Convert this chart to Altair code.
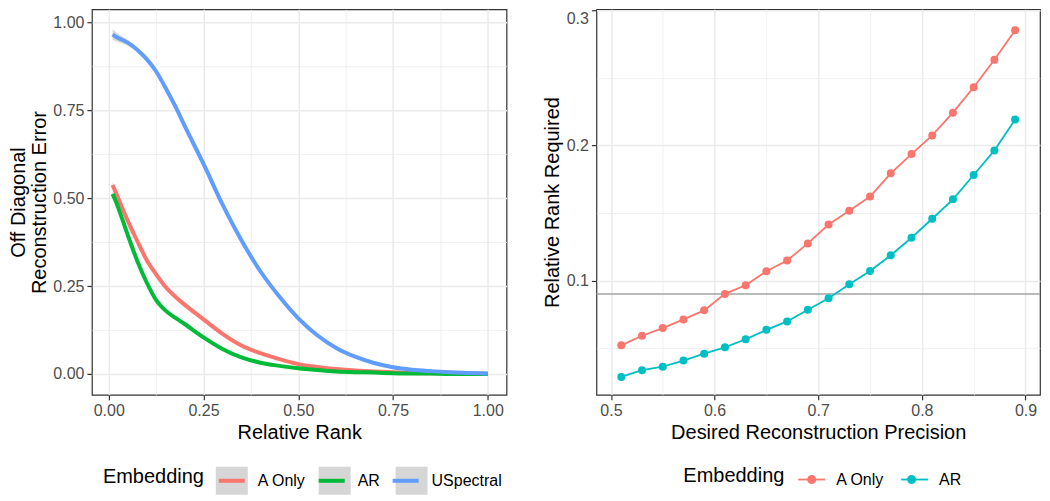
import altair as alt
import pandas as pd

# ---------------- Left panel data ----------------
embed_left = ["A Only", "AR", "USpectral"]
colors_left = ["#F8766D", "#00BA38", "#619CFF"]

rank_x = [0.01, 0.02, 0.05, 0.075, 0.1, 0.125, 0.15, 0.175, 0.2, 0.25, 0.3, 0.35,
          0.4, 0.45, 0.5, 0.55, 0.6, 0.65, 0.7, 0.75, 0.8, 0.85, 0.9, 0.95, 1.0]
err_a_only = [0.537, 0.512, 0.436, 0.378, 0.324, 0.283, 0.247, 0.220, 0.197, 0.155, 0.114, 0.081,
              0.059, 0.042, 0.028, 0.020, 0.014, 0.010, 0.007, 0.005, 0.003, 0.002, 0.001, 0.0005, 0.0]
err_ar = [0.512, 0.487, 0.395, 0.322, 0.260, 0.210, 0.180, 0.160, 0.142, 0.104, 0.071, 0.047,
          0.032, 0.023, 0.016, 0.011, 0.007, 0.005, 0.004, 0.002, 0.001, 0.001, 0.0, 0.0, 0.0]
err_usp = [0.965, 0.958, 0.942, 0.922, 0.895, 0.860, 0.813, 0.762, 0.706, 0.597, 0.482, 0.380,
           0.292, 0.220, 0.158, 0.110, 0.074, 0.049, 0.031, 0.019, 0.012, 0.008, 0.005, 0.003, 0.001]
se_a_only = [0.008, 0.006, 0.004, 0.003, 0.003, 0.003, 0.002, 0.002, 0.002, 0.002, 0.002, 0.002,
             0.002, 0.002, 0.002, 0.002, 0.002, 0.002, 0.002, 0.002, 0.002, 0.002, 0.003, 0.003, 0.004]
se_ar = [0.008, 0.006, 0.004, 0.003, 0.003, 0.003, 0.002, 0.002, 0.002, 0.002, 0.002, 0.002,
         0.002, 0.002, 0.002, 0.002, 0.002, 0.002, 0.002, 0.002, 0.002, 0.002, 0.003, 0.003, 0.004]
se_usp = [0.015, 0.012, 0.008, 0.006, 0.005, 0.004, 0.004, 0.003, 0.003, 0.003, 0.003, 0.003,
          0.003, 0.003, 0.003, 0.003, 0.003, 0.003, 0.003, 0.003, 0.003, 0.003, 0.004, 0.005, 0.007]

# ---------------- Right panel data ----------------
embed_right = ["A Only", "AR"]
colors_right = ["#F8766D", "#00BFC4"]

prec_x = [0.51, 0.53, 0.55, 0.57, 0.59, 0.61, 0.63, 0.65, 0.67, 0.69,
          0.71, 0.73, 0.75, 0.77, 0.79, 0.81, 0.83, 0.85, 0.87, 0.89]
req_a_only = [0.0520, 0.0591, 0.0648, 0.0712, 0.0779, 0.0901, 0.0965, 0.1069, 0.1148, 0.1275,
              0.1415, 0.1517, 0.1622, 0.1794, 0.1937, 0.2075, 0.2244, 0.2432, 0.2636, 0.2855]
req_ar = [0.0286, 0.0336, 0.0362, 0.0407, 0.0458, 0.0505, 0.0565, 0.0635, 0.0697, 0.0783,
          0.0869, 0.0973, 0.1071, 0.1187, 0.1317, 0.1458, 0.1602, 0.1782, 0.1964, 0.2193]
req_se_a_only = [0.0018, 0.0018, 0.0018, 0.0018, 0.0018, 0.0018, 0.0018, 0.0018, 0.0018, 0.0018,
                 0.0018, 0.0018, 0.0018, 0.0018, 0.0018, 0.0020, 0.0020, 0.0020, 0.0022, 0.0022]
req_se_ar = [0.0015, 0.0015, 0.0015, 0.0015, 0.0015, 0.0015, 0.0015, 0.0015, 0.0015, 0.0015,
             0.0016, 0.0016, 0.0016, 0.0017, 0.0017, 0.0018, 0.0018, 0.0019, 0.0020, 0.0021]
hline_y = [0.09]

# ---------------- Build tables ----------------
rows = []
for name, ys, ses in zip(embed_left, [err_a_only, err_ar, err_usp], [se_a_only, se_ar, se_usp]):
    for x, y, s in zip(rank_x, ys, ses):
        rows.append({"rank": x, "err": y, "lo": y - s, "hi": y + s, "Embedding": name, "Band": name})
left_df = pd.DataFrame(rows)

rows = []
for name, ys, ses in zip(embed_right, [req_a_only, req_ar], [req_se_a_only, req_se_ar]):
    for x, y, s in zip(prec_x, ys, ses):
        rows.append({"prec": x, "req": y, "lo": y - s, "hi": y + s, "Embedding": name, "Pt": name})
right_df = pd.DataFrame(rows)
hline_df = pd.DataFrame({"y": hline_y})


def minor_axis(values, test, fmt, title, **kw):
    return alt.Axis(
        values=values, title=title,
        labelExpr=f"({test}) ? format(datum.value, '{fmt}') : ''",
        gridWidth={"condition": {"test": test, "value": 1.5}, "value": 0.75},
        tickOpacity={"condition": {"test": test, "value": 1}, "value": 0},
        **kw,
    )


LEG_Y = 456
leg_base = dict(orient="none", direction="horizontal", title="Embedding", titleOrient="left",
                titleAnchor="middle", titleBaseline="middle",
                titleFontSize=20, titleFontWeight="normal", labelFontSize=16, legendY=LEG_Y)
leg_left = dict(leg_base, legendX=11, titlePadding=11, labelOffset=10, columnPadding=3,
                symbolSize=784, symbolStrokeWidth=4)
leg_right = dict(leg_base, legendX=87, titlePadding=12, labelOffset=10, columnPadding=12,
                 symbolSize=729, symbolStrokeWidth=1.8)
HIDDEN = "rgba(0,0,0,0)"

# ---------------- Left chart ----------------
xl = alt.X("rank:Q", scale=alt.Scale(domain=[-0.0445, 1.0495], nice=False, zero=False),
           axis=minor_axis([0, 0.125, 0.25, 0.375, 0.5, 0.625, 0.75, 0.875, 1.0],
                           "round(datum.value*1000) % 250 == 0", ".2f", "Relative Rank"))
yl_axis = minor_axis([0, 0.125, 0.25, 0.375, 0.5, 0.625, 0.75, 0.875, 1.0],
                     "round(datum.value*1000) % 250 == 0", ".2f",
                     ["Off Diagonal", "Reconstruction Error"], titleLineHeight=21, titlePadding=3)

band = alt.Chart(left_df).mark_area(opacity=1).encode(
    x=xl,
    y=alt.Y("lo:Q", scale=alt.Scale(domain=[-0.0595, 1.037], nice=False, zero=False), axis=yl_axis),
    y2="hi:Q",
    fill=alt.Fill("Band:N", scale=alt.Scale(range=["#D6D6D6"] * 3),
                  legend=alt.Legend(symbolType="M-1.143,-1H1.143V1H-1.143Z", symbolStrokeColor=HIDDEN,
                                    symbolOpacity=1, labelColor=HIDDEN, titleColor=HIDDEN, **leg_left)),
)
lines = alt.Chart(left_df).mark_line(strokeWidth=4, interpolate="monotone", strokeCap="butt").encode(
    x=xl,
    y=alt.Y("err:Q"),
    stroke=alt.Stroke("Embedding:N", scale=alt.Scale(range=colors_left),
                      legend=alt.Legend(symbolType="M-0.93,0H0.93", labelColor="black",
                                        titleColor="black", **leg_left)),
    order="rank:Q",
)
left = alt.layer(band, lines).properties(width=415, height=386)

# ---------------- Right chart ----------------
xr = alt.X("prec:Q", scale=alt.Scale(domain=[0.486, 0.914], nice=False, zero=False),
           axis=minor_axis([0.5, 0.55, 0.6, 0.65, 0.7, 0.75, 0.8, 0.85, 0.9],
                           "round(datum.value*100) % 10 == 0", ".1f", "Desired Reconstruction Precision"))
yr_scale = alt.Scale(domain=[0.0153, 0.301], nice=False, zero=False)
yr_axis = minor_axis([0.05, 0.1, 0.15, 0.2, 0.25, 0.3], "round(datum.value*100) % 10 == 0", ".1f",
                     "Relative Rank Required",
                     labelBaseline={"condition": {"test": "datum.value > 0.29", "value": "top"},
                                    "value": "middle"})

hl = alt.Chart(hline_df).mark_rule(color="#A3A3A3", strokeWidth=1.5).encode(
    y=alt.Y("y:Q", scale=yr_scale, axis=yr_axis))
ebar = alt.Chart(right_df).mark_errorbar(ticks=True, opacity=0.6).encode(
    x=xr, y=alt.Y("lo:Q", scale=yr_scale, axis=yr_axis), y2="hi:Q",
    color=alt.Color("Embedding:N", scale=alt.Scale(domain=embed_right, range=colors_right), legend=None),
)
rline = alt.Chart(right_df).mark_line(strokeWidth=1.8).encode(
    x=xr, y=alt.Y("req:Q", scale=yr_scale, axis=yr_axis),
    stroke=alt.Stroke("Embedding:N", scale=alt.Scale(range=colors_right),
                      legend=alt.Legend(symbolType="M-1,0H1", labelColor="black",
                                        titleColor="black", **leg_right)),
)
rpts = alt.Chart(right_df).mark_point(filled=True, size=64, opacity=1).encode(
    x=xr, y=alt.Y("req:Q", scale=yr_scale, axis=yr_axis),
    fill=alt.Fill("Pt:N", scale=alt.Scale(range=colors_right),
                  legend=alt.Legend(symbolType="M-0.333,0A0.333,0.333,0,1,0,0.333,0A0.333,0.333,0,1,0,-0.333,0Z",
                                    symbolStrokeColor=HIDDEN, symbolOpacity=1,
                                    labelColor=HIDDEN, titleColor=HIDDEN, **leg_right)),
)
right = alt.layer(hl, ebar, rline, rpts).properties(width=444, height=386)

chart = alt.hconcat(left, right, spacing=32).resolve_scale(
    stroke="independent", fill="independent", color="independent"
).properties(
    padding={"left": 0, "top": 0, "right": 0, "bottom": 0}
).configure(font="Liberation Sans").configure_view(
    stroke="#333333", strokeWidth=1.2
).configure_axis(
    domain=False, grid=True, gridColor="#EBEBEB", tickColor="#333333", tickSize=5, tickWidth=1.2,
    labelFontSize=16, labelColor="#4D4D4D", labelPadding=3, titleFontSize=20,
    titleFontWeight="normal", titleColor="black", titlePadding=4,
)

chart.save("out.html", embed_options={"renderer": "svg", "actions": False})
